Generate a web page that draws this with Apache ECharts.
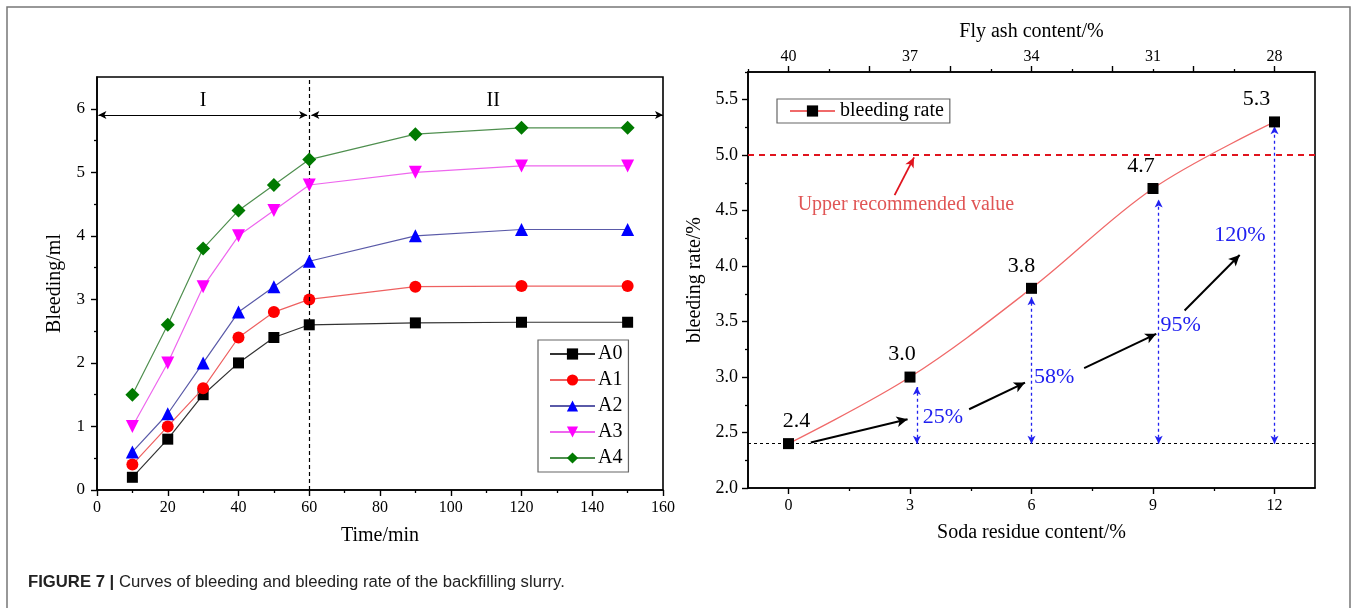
<!DOCTYPE html>
<html><head><meta charset="utf-8">
<script src="https://cdn.jsdelivr.net/npm/echarts@6/dist/echarts.min.js"></script>
<style>html,body{margin:0;padding:0;background:#fff}#c{width:1356px;height:608px}</style>
</head><body><div id="c"></div>
<script>
// ---------- data ----------
const timeMin = [10, 20, 30, 40, 50, 60, 90, 120, 150];
const A0 = [0.2, 0.8, 1.5, 2.0, 2.4, 2.6, 2.63, 2.64, 2.64];
const A1 = [0.4, 1.0, 1.6, 2.4, 2.8, 3.0, 3.2, 3.21, 3.21];
const A2 = [0.6, 1.2, 2.0, 2.8, 3.2, 3.6, 4.0, 4.1, 4.1];
const A3 = [1.0, 2.0, 3.2, 4.0, 4.4, 4.8, 5.0, 5.1, 5.1];
const A4 = [1.5, 2.6, 3.8, 4.4, 4.8, 5.2, 5.6, 5.7, 5.7];
const groupNames = ['A0', 'A1', 'A2', 'A3', 'A4'];
const stageBoundary = 60;
const stageArrowY = 5.9;
const stageLabels = [['I', 30, 6.13], ['II', 112, 6.13]];

const sodaResidue = [0, 3, 6, 9, 12];
const flyAsh = [40, 37, 34, 31, 28];
const bleedingRate = [2.4, 3.0, 3.8, 4.7, 5.3];
const upperRecommended = 5.0;
const baseline = 2.4;
const increaseArrows = [[3.17, 2.91], [6.0, 3.72], [9.14, 4.6], [12.0, 5.26]];
const increaseLabels = ['25%', '58%', '95%', '120%'];
const increaseLabelPos = [[3.3, 2.64], [6.05, 3.0], [9.17, 3.47], [10.5, 4.28]];
const trendArrows = [[[0.55, 2.41], [2.94, 2.62]], [[4.46, 2.71], [5.84, 2.95]], [[7.3, 3.08], [9.08, 3.39]], [[9.78, 3.6], [11.14, 4.1]]];
const upperNote = 'Upper recommended value';
const upperNotePos = [2.9, 4.55];
const upperArrow = [[2.62, 4.64], [3.1, 4.98]];

const leftY = [0, 1, 2, 3, 4, 5, 6];
const rightY = [2.0, 2.5, 3.0, 3.5, 4.0, 4.5, 5.0, 5.5];

// ---------- styles ----------
const SERIF = '"Liberation Serif", "Times New Roman", serif';
const markerColors = ['#000000', '#ff0000', '#0000ff', '#ff00ff', '#007a00'];
const lineColors = ['#333333', '#ee6060', '#5a5aa8', '#ee66ee', '#4f8f4f'];
const symbols = ['rect', 'circle', 'triangle', 'triangle', 'diamond'];
const rotates = [0, 0, 0, 180, 0];
const symSizes = [11, 12, 13, 13, 14];
const groups = [A0, A1, A2, A3, A4];

function axisBase(extra) {
  return Object.assign({
    type: 'value',
    axisLine: { show: true, onZero: false, lineStyle: { color: '#000', width: 1.6 } },
    axisTick: { show: true, inside: false, length: 6, lineStyle: { color: '#000', width: 1.4 } },
    axisLabel: { color: '#000', fontFamily: SERIF, fontSize: 16, margin: 10 },
    splitLine: { show: false },
    nameTextStyle: { color: '#000', fontFamily: SERIF, fontSize: 20 }
  }, extra);
}
function minorAxis(extra, values) {
  return Object.assign({
    type: 'value',
    axisLine: { show: false, onZero: false },
    axisTick: { show: true, inside: false, length: 3, customValues: values, lineStyle: { color: '#000', width: 1.3 } },
    axisLabel: { show: false },
    splitLine: { show: false }
  }, extra);
}

const xAxes = [
  axisBase({ gridIndex: 0, min: 0, max: 160, interval: 20, position: 'bottom',
    minorTick: { show: true, splitNumber: 2, length: 3, lineStyle: { color: '#000', width: 1.3 } },
    name: 'Time/min', nameLocation: 'middle', nameGap: 36 }),
  axisBase({ gridIndex: 1, min: -1, max: 13, position: 'bottom',
    axisLabel: { color: '#000', fontFamily: SERIF, fontSize: 16, margin: 10, customValues: sodaResidue },
    axisTick: { show: true, length: 6, customValues: sodaResidue, lineStyle: { color: '#000', width: 1.4 } },
    name: 'Soda residue content/%', nameLocation: 'middle', nameGap: 35 }),
  minorAxis({ gridIndex: 1, min: -1, max: 13, position: 'bottom' }, [1.5, 4.5, 7.5, 10.5]),
  axisBase({ gridIndex: 1, min: -1, max: 13, position: 'top',
    axisLabel: { color: '#000', fontFamily: SERIF, fontSize: 16, margin: 7, customValues: sodaResidue,
      formatter: v => String(flyAsh[sodaResidue.indexOf(v)]) },
    axisTick: { show: true, length: 6, customValues: [0, 2, 4, 6, 8, 10, 12], lineStyle: { color: '#000', width: 1.4 } },
    name: 'Fly ash content/%', nameLocation: 'middle', nameGap: 30 }),
  minorAxis({ gridIndex: 1, min: -1, max: 13, position: 'top' }, [-1, 1, 3, 5, 7, 9, 11])
];

const yAxes = [
  axisBase({ gridIndex: 0, min: 0, max: 6.5,
    axisLabel: { color: '#000', fontFamily: SERIF, fontSize: 17, margin: 12, customValues: leftY },
    axisTick: { show: true, length: 6, customValues: leftY, lineStyle: { color: '#000', width: 1.4 } },
    name: 'Bleeding/ml', nameLocation: 'middle', nameGap: 32, nameRotate: 90 }),
  minorAxis({ gridIndex: 0, min: 0, max: 6.5, position: 'left' }, [0.5, 1.5, 2.5, 3.5, 4.5, 5.5]),
  axisBase({ gridIndex: 1, min: 2.0, max: 5.75,
    axisLabel: { color: '#000', fontFamily: SERIF, fontSize: 18, margin: 10, customValues: rightY, formatter: v => v.toFixed(1) },
    axisTick: { show: true, length: 6, customValues: rightY, lineStyle: { color: '#000', width: 1.4 } },
    name: 'bleeding rate/%', nameLocation: 'middle', nameGap: 43, nameRotate: 90 }),
  minorAxis({ gridIndex: 1, min: 2.0, max: 5.75, position: 'left' }, [2.25, 2.75, 3.25, 3.75, 4.25, 4.75, 5.25, 5.75])
];

const series = groups.map((vals, i) => ({
  name: groupNames[i], type: 'line', xAxisIndex: 0, yAxisIndex: 0,
  data: timeMin.map((t, k) => [t, vals[k]]),
  symbol: symbols[i], symbolRotate: rotates[i], symbolSize: symSizes[i],
  itemStyle: { color: markerColors[i] },
  lineStyle: { color: lineColors[i], width: 1.2 },
  z: 3 + i
}));

// stage annotations on left chart
series[0].markLine = {
  silent: true, animation: false, label: { show: false },
  data: [
    [{ coord: [0.4, stageArrowY], symbol: 'arrow' }, { coord: [stageBoundary - 0.6, stageArrowY], symbol: 'arrow' }],
    [{ coord: [stageBoundary + 0.6, stageArrowY], symbol: 'arrow' }, { coord: [160, stageArrowY], symbol: 'arrow' }]
  ],
  symbolSize: [6, 8],
  lineStyle: { color: '#000', width: 1.2, type: 'solid' }
};
series.push({
  type: 'line', xAxisIndex: 0, yAxisIndex: 0, data: [], silent: true,
  markLine: { silent: true, animation: false, symbol: 'none', label: { show: false },
    data: [{ xAxis: stageBoundary }], lineStyle: { color: '#000', width: 1.2, type: [4, 3] } },
  markPoint: { silent: true, animation: false, symbol: 'circle', symbolSize: 1, itemStyle: { color: 'rgba(0,0,0,0)' },
    label: { show: true, position: 'inside', color: '#000', fontFamily: SERIF, fontSize: 20 },
    data: stageLabels.map(s => ({ coord: [s[1], s[2]], label: { formatter: s[0] } })) }
});

// right chart main series
const labelOffsets = [[8, 0], [-8, 0], [-10, 0], [-12, 0], [-18, 0]];
series.push({
  name: 'bleeding rate', type: 'line', xAxisIndex: 1, yAxisIndex: 2,
  data: sodaResidue.map((x, k) => ({ value: [x, bleedingRate[k]], label: { offset: labelOffsets[k] } })),
  smooth: 0.35, symbol: 'rect', symbolSize: 11,
  itemStyle: { color: '#000' }, lineStyle: { color: '#f06a6a', width: 1.3 },
  label: { show: true, position: 'top', distance: 6, color: '#000', fontFamily: SERIF, fontSize: 22,
    formatter: p => p.value[1].toFixed(1) },
  z: 5,
  markLine: { silent: true, animation: false, symbol: 'none', label: { show: false },
    data: [
      { yAxis: upperRecommended, lineStyle: { color: '#e0141e', width: 1.8, type: [6, 5] } },
      { yAxis: baseline, lineStyle: { color: '#000', width: 1.2, type: [3, 3] } }
    ] }
});
// blue dotted double arrows
series.push({
  type: 'line', xAxisIndex: 1, yAxisIndex: 2, data: [], silent: true,
  markLine: { silent: true, animation: false, label: { show: false }, symbolSize: [6, 8],
    lineStyle: { color: '#2020f0', width: 1.3, type: [3, 3] },
    data: increaseArrows.map(a => [{ coord: [a[0], baseline], symbol: 'arrow' }, { coord: [a[0], a[1]], symbol: 'arrow' }]) },
  markPoint: { silent: true, animation: false, symbol: 'circle', symbolSize: 1, itemStyle: { color: 'rgba(0,0,0,0)' },
    label: { show: true, position: 'right', distance: 0, color: '#2020f0', fontFamily: SERIF, fontSize: 22 },
    data: increaseLabels.map((t, k) => ({ coord: increaseLabelPos[k], label: { formatter: t } })) }
});
// black trend arrows
series.push({
  type: 'line', xAxisIndex: 1, yAxisIndex: 2, data: [], silent: true,
  markLine: { silent: true, animation: false, label: { show: false }, symbol: ['none', 'arrow'], symbolSize: [8, 11],
    lineStyle: { color: '#000', width: 2, type: 'solid' },
    data: trendArrows.map(a => [{ coord: a[0] }, { coord: a[1] }]) }
});
// red note
series.push({
  type: 'line', xAxisIndex: 1, yAxisIndex: 2, data: [], silent: true,
  markLine: { silent: true, animation: false, label: { show: false }, symbol: ['none', 'arrow'], symbolSize: [7, 10],
    lineStyle: { color: '#e0141e', width: 1.8, type: 'solid' },
    data: [[{ coord: upperArrow[0] }, { coord: upperArrow[1] }]] },
  markPoint: { silent: true, animation: false, symbol: 'circle', symbolSize: 1, itemStyle: { color: 'rgba(0,0,0,0)' },
    label: { show: true, position: 'inside', color: '#e05555', fontFamily: SERIF, fontSize: 20, formatter: upperNote },
    data: [{ coord: upperNotePos }] }
});

const CAPFONT = '"Liberation Sans", Arial, sans-serif';
const option = {
  animation: false,
  backgroundColor: '#fff',
  title: {
    text: '{b|FIGURE 7 |} Curves of bleeding and bleeding rate of the backfilling slurry.',
    left: 23, top: 569,
    textStyle: { fontFamily: CAPFONT, fontSize: 16.7, fontWeight: 'normal', color: '#222',
      rich: { b: { fontFamily: CAPFONT, fontSize: 16.7, fontWeight: 'bold', color: '#222' } } }
  },
  grid: [
    { left: 97, top: 77, width: 566, height: 413, show: true, borderColor: '#000', borderWidth: 1.6, backgroundColor: 'transparent' },
    { left: 748, top: 72, width: 567, height: 416, show: true, borderColor: '#000', borderWidth: 1.6, backgroundColor: 'transparent' }
  ],
  legend: [
    { data: groupNames, orient: 'vertical', left: 538, top: 340, itemWidth: 45, itemHeight: 14, itemGap: 6,
      padding: [4, 6, 4, 11], borderColor: '#666', borderWidth: 1.2,
      textStyle: { fontFamily: SERIF, fontSize: 20, color: '#000', padding: [0, 0, 0, -2] } },
    { data: ['bleeding rate'], left: 777, top: 99, itemWidth: 45, itemHeight: 14,
      padding: [2, 6, 2, 12], borderColor: '#666', borderWidth: 1.2,
      textStyle: { fontFamily: SERIF, fontSize: 20, color: '#000' } }
  ],
  xAxis: xAxes,
  yAxis: yAxes,
  series: series,
  graphic: [
    { type: 'rect', silent: true, z: -1, shape: { x: 7, y: 7, width: 1343, height: 640 },
      style: { fill: 'none', stroke: '#777', lineWidth: 1.5 } }
  ]
};

const chart = echarts.init(document.getElementById('c'), null, { renderer: 'canvas' });
chart.setOption(option);
</script>
</body></html>
